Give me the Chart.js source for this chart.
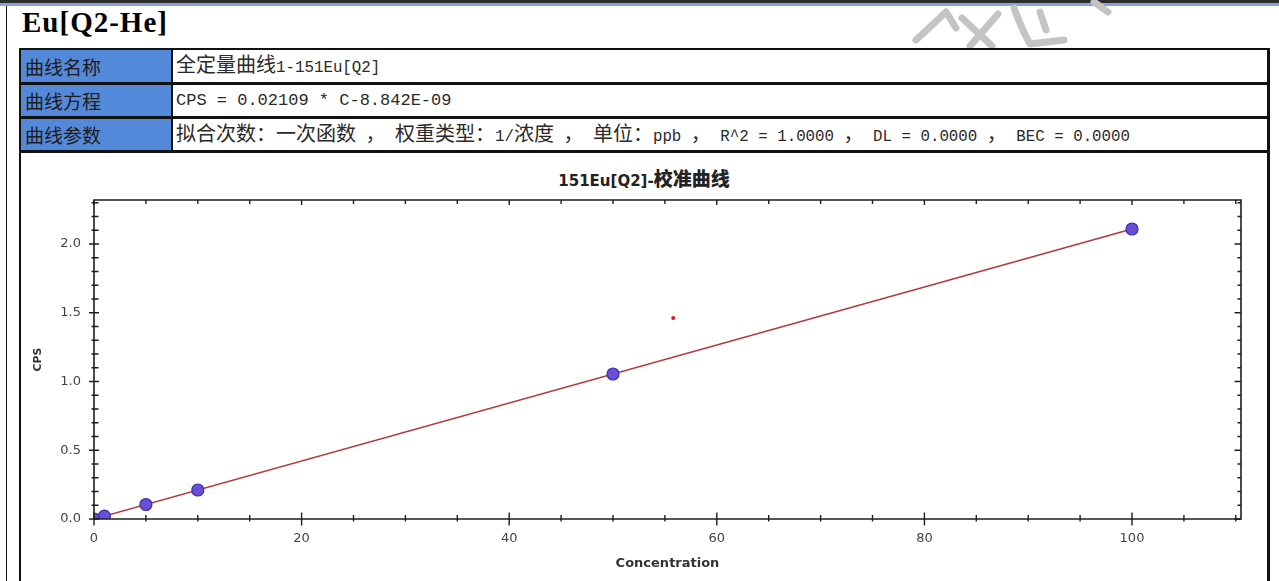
<!DOCTYPE html>
<html>
<head>
<meta charset="utf-8">
<script src="https://cdn.jsdelivr.net/npm/chart.js@4.4.1/dist/chart.umd.min.js"></script>
<style>
  html, body { margin: 0; padding: 0; background: #fff; width: 1279px; height: 581px; overflow: hidden; }
  body { position: relative; }
  .abs { position: absolute; }
  .band { left: 0; top: 0; width: 1279px; height: 3px; background: #2e2e2e; }
  .band2 { left: 0; top: 3px; width: 1279px; height: 3px; background: #86a3d3; }
  .vline { background: #111; }
  .heading { left: 22px; top: 4px; height: 36px; line-height: 36px; font-family: "Liberation Serif", serif; font-weight: bold; font-size: 29px; letter-spacing: 1px; color: #000; white-space: nowrap; }
  .hline { background: #111; left: 19px; width: 1251px; }
  .label { left: 21px; width: 150px; background: #5488d8; color: #1c1c1c; font-family: "Noto Sans CJK SC", sans-serif; font-size: 19px; display: flex; align-items: center; padding-left: 4px; box-sizing: border-box; }
  .value { left: 173px; width: 1094px; background: #fff; color: #2a2a2a; display: flex; align-items: center; padding-left: 3px; box-sizing: border-box; }
  .value .txt { white-space: pre; line-height: 28px; }
  .cj { font-family: "Noto Sans CJK SC", sans-serif; font-size: 20px; }
  .lt { font-family: "Liberation Mono", monospace; font-size: 15.8px; white-space: pre; }
  .wide .lt { font-size: 17px; }
  .ctitle { left: 21px; width: 1246px; top: 166px; height: 24px; line-height: 24px; text-align: center; color: #222; font-weight: bold; white-space: nowrap; }
  .ctitle .a { font-family: "DejaVu Sans", sans-serif; font-size: 15px; }
  .ctitle .b { font-family: "Noto Sans CJK SC", sans-serif; font-size: 19px; font-weight: 900; }
  #chart { position: absolute; left: 22px; top: 154px; }
</style>
</head>
<body>
  <!-- page header bands -->
  <div class="abs band"></div>
  <div class="abs band2"></div>
  <div class="abs vline" style="left:6px;top:6px;width:1px;height:575px;"></div>

  <!-- watermark strokes -->
  <svg class="abs" style="left:0;top:0;" width="1279" height="48">
    <g fill="none" stroke="#c4c4c4" stroke-width="7" stroke-linecap="round" stroke-linejoin="round">
      <path d="M916,40 L946,12 L956,28"/>
      <path d="M962,18 L992,46"/>
      <path d="M970,46 L998,14"/>
      <path d="M1014,8 Q1022,30 1030,44 L1064,40"/>
      <path d="M1040,12 L1046,30"/>
      <path d="M1094,2 L1108,12"/>
    </g>
  </svg>

  <div class="abs heading">Eu[Q2-He]</div>

  <!-- parameter table -->
  <div class="abs hline" style="top:48px;height:2px;"></div>
  <div class="abs label" style="top:50px;height:32px;">曲线名称</div>
  <div class="abs value" style="top:50px;height:32px;"><div class="txt mix">全定量曲线1-151Eu[Q2]</div></div>
  <div class="abs hline" style="top:82px;height:3px;"></div>
  <div class="abs label" style="top:85px;height:31px;">曲线方程</div>
  <div class="abs value wide" style="top:85px;height:31px;"><div class="txt mix">CPS = 0.02109 * C-8.842E-09</div></div>
  <div class="abs hline" style="top:116px;height:3px;"></div>
  <div class="abs label" style="top:119px;height:31px;">曲线参数</div>
  <div class="abs value" style="top:119px;height:31px;"><div class="txt mix">拟合次数：一次函数 ， 权重类型：1/浓度 ， 单位：ppb ， R^2 = 1.0000 ， DL = 0.0000 ， BEC = 0.0000</div></div>
  <div class="abs hline" style="top:150px;height:3px;"></div>
  <!-- cell dividers and outer table sides -->
  <div class="abs vline" style="left:171px;top:48px;width:2px;height:105px;"></div>
  <div class="abs vline" style="left:19px;top:48px;width:2px;height:533px;"></div>
  <div class="abs vline" style="left:1267px;top:48px;width:3px;height:533px;"></div>

  <div class="abs ctitle"><span class="a">151Eu[Q2]-</span><span class="b">校准曲线</span></div>
  <canvas id="chart" width="1244" height="427"></canvas>

<script>
// calibration standards (ppb) and measured CPS ratio
const concentrations = [0, 1, 5, 10, 50, 100];
const cpsValues = [0.0000, 0.0211, 0.1055, 0.2109, 1.0545, 2.1090];

// fitted line CPS = 0.02109 * C - 8.842E-09, over the calibrated range
const fitLineX = [0, 100];
const fitLineY = [-8.842e-9, 2.109];

// single sample reading
const sampleX = [55.8];
const sampleY = [1.462];

// axis ticks
const xTickValues = [0, 5, 10, 15, 20, 25, 30, 35, 40, 45, 50, 55, 60, 65, 70, 75, 80, 85, 90, 95, 100, 105, 110];
const xTickLabels = ['0', '20', '40', '60', '80', '100'];
const yTickValues = [0.0, 0.1, 0.2, 0.3, 0.4, 0.5, 0.6, 0.7, 0.8, 0.9, 1.0, 1.1, 1.2, 1.3, 1.4, 1.5, 1.6, 1.7, 1.8, 1.9, 2.0, 2.1, 2.2, 2.3];
const yTickLabels = ['0.0', '0.5', '1.0', '1.5', '2.0'];

// split table text into CJK runs and half-width runs
const CJK_RUN = /[\u2E80-\u9FFF\u3000-\u303F\uFF00-\uFFEF]+|[^\u2E80-\u9FFF\u3000-\u303F\uFF00-\uFFEF]+/g;
const CJK = /[\u2E80-\u9FFF\u3000-\u303F\uFF00-\uFFEF]/;
document.querySelectorAll('.mix').forEach(el => {
  const text = el.textContent;
  el.textContent = '';
  text.match(CJK_RUN).forEach(run => {
    const s = document.createElement('span');
    s.className = CJK.test(run) ? 'cj' : 'lt';
    s.textContent = run;
    el.appendChild(s);
  });
});

const pair = (xs, ys) => xs.map((x, i) => ({ x: x, y: ys[i] }));
const fmt1 = v => (Math.round(v * 10) / 10).toFixed(1);
const isXMajor = v => xTickLabels.includes(String(Math.round(v)));
const isYMajor = v => yTickLabels.includes(fmt1(v));

// boxed frame with inner / crossing tick marks
const framePlugin = {
  id: 'frameTicks',
  afterDatasetsDraw(chart) {
    const { ctx, chartArea: { left, right, top, bottom }, scales: { x, y } } = chart;
    ctx.save();
    ctx.strokeStyle = '#1e1e1e';
    ctx.lineWidth = 1.6;
    ctx.beginPath();
    ctx.rect(left, top, right - left, bottom - top);
    ctx.stroke();
    ctx.lineWidth = 1.4;
    ctx.beginPath();
    xTickValues.forEach(v => {
      const px = x.getPixelForValue(v);
      const major = isXMajor(v);
      ctx.moveTo(px, bottom - (major ? 6.5 : 4));
      ctx.lineTo(px, bottom + (major ? 6.5 : 2.5));
      ctx.moveTo(px, top);
      ctx.lineTo(px, top + (major ? 5 : 4));
    });
    yTickValues.forEach(v => {
      const py = y.getPixelForValue(v);
      const major = isYMajor(v);
      ctx.moveTo(left - (major ? 5 : 2.5), py);
      ctx.lineTo(left + (major ? 5 : 4.5), py);
      ctx.moveTo(right, py);
      ctx.lineTo(right - (major ? 6.5 : 3.5), py);
    });
    ctx.stroke();
    ctx.restore();
  }
};

new Chart(document.getElementById('chart'), {
  type: 'scatter',
  data: {
    datasets: [
      {
        label: 'standards',
        data: pair(concentrations, cpsValues),
        pointRadius: 6,
        pointHoverRadius: 6,
        pointBackgroundColor: '#6a4fd6',
        pointBorderColor: '#3530b0',
        pointBorderWidth: 1.2,
        clip: 0
      },
      {
        label: 'sample',
        data: pair(sampleX, sampleY),
        pointRadius: 2,
        pointBackgroundColor: '#e0141c',
        pointBorderWidth: 0
      },
      {
        label: 'fit',
        data: pair(fitLineX, fitLineY),
        showLine: true,
        borderColor: '#b33a3a',
        borderWidth: 1.5,
        pointRadius: 0,
        pointHoverRadius: 0
      }
    ]
  },
  options: {
    responsive: false,
    animation: false,
    devicePixelRatio: 1,
    layout: { padding: { left: 0, right: 25, top: 46, bottom: 0 } },
    plugins: {
      legend: { display: false },
      title: { display: false },
      tooltip: { enabled: false }
    },
    scales: {
      x: {
        type: 'linear',
        min: 0,
        max: 110.5,
        grid: { display: false, drawTicks: false },
        border: { display: false },
        afterBuildTicks: s => { s.ticks = xTickValues.map(v => ({ value: v })); },
        afterFit: s => { s.height = 62; },
        ticks: {
          autoSkip: false,
          maxRotation: 0,
          padding: 12,
          color: '#444',
          font: { family: 'DejaVu Sans', size: 13 },
          callback: v => (isXMajor(v) ? String(Math.round(v)) : '')
        },
        title: {
          display: true,
          text: 'Concentration',
          color: '#333',
          font: { family: 'DejaVu Sans', size: 13, weight: 'bold' },
          padding: { top: 4, bottom: 10 }
        }
      },
      y: {
        type: 'linear',
        min: 0,
        max: 2.32,
        grid: { display: false, drawTicks: false },
        border: { display: false },
        afterBuildTicks: s => { s.ticks = yTickValues.map(v => ({ value: v })); },
        afterFit: s => { s.width = 72; },
        ticks: {
          autoSkip: false,
          padding: 13,
          color: '#444',
          font: { family: 'DejaVu Sans', size: 13 },
          callback: v => (isYMajor(v) ? fmt1(v) : '')
        },
        title: {
          display: true,
          text: 'CPS',
          color: '#333',
          font: { family: 'DejaVu Sans', size: 11, weight: 'bold' },
          padding: { top: 10, bottom: 0 }
        }
      }
    }
  },
  plugins: [framePlugin]
});
</script>
</body>
</html>
